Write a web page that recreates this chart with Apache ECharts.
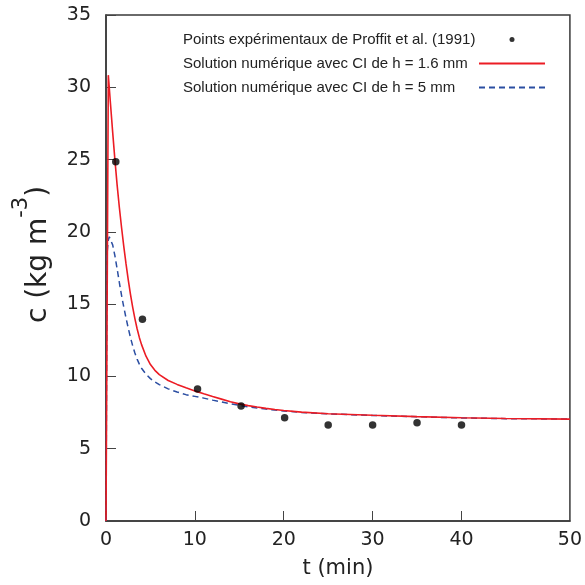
<!DOCTYPE html>
<html>
<head>
<meta charset="utf-8">
<script src="https://cdn.jsdelivr.net/npm/echarts@6/dist/echarts.min.js"></script>
<style>html,body{margin:0;padding:0;background:#fff}#c{width:585px;height:585px}</style>
</head>
<body>
<div id="c"></div>
<script>
// ---- data ----
const seriesNames = [
  'Points expérimentaux de Proffit et al. (1991)',
  'Solution numérique avec CI de h = 1.6 mm',
  'Solution numérique avec CI de h = 5 mm'
];
const tExp = [1.1, 4.1, 10.3, 15.2, 20.1, 25, 30, 35, 40];
const cExp = [24.85, 13.95, 9.13, 7.95, 7.15, 6.64, 6.64, 6.8, 6.64];

const tRed = [0, 0.26, 0.5, 0.75, 1.0, 1.25, 1.5, 1.75, 2.0, 2.25, 2.5, 2.75, 3.0, 3.25, 3.5, 3.75, 4.0, 4.5, 5.0, 5.5, 6.0, 7.0, 8.0, 9.0, 10, 11, 12, 13, 14, 15, 16, 17, 18, 19, 20, 22, 25, 30, 35, 40, 45, 52.2];
const cRed = [0, 30.84, 28.9, 26.9, 25.0, 23.25, 21.7, 20.3, 19.0, 17.8, 16.7, 15.7, 14.8, 14.0, 13.3, 12.7, 12.2, 11.4, 10.82, 10.42, 10.12, 9.72, 9.45, 9.22, 9.0, 8.8, 8.61, 8.43, 8.25, 8.1, 7.98, 7.88, 7.79, 7.71, 7.64, 7.53, 7.42, 7.31, 7.22, 7.14, 7.09, 7.05];

const tBlue = [0, 0.12, 0.25, 0.37, 0.5, 0.75, 1.0, 1.25, 1.5, 1.75, 2.0, 2.25, 2.5, 2.75, 3.0, 3.25, 3.5, 3.75, 4.0, 4.5, 5.0, 5.5, 6.0, 7.0, 8.0, 9.0, 10, 11, 12, 13, 14, 15, 16, 17, 18, 19, 20, 22, 25, 30, 35, 40, 45, 52.2];
const cBlue = [0, 18.5, 19.4, 19.66, 19.55, 19.1, 18.35, 17.45, 16.5, 15.6, 14.8, 14.05, 13.35, 12.7, 12.12, 11.62, 11.2, 10.85, 10.57, 10.15, 9.85, 9.62, 9.43, 9.14, 8.92, 8.74, 8.62, 8.5, 8.36, 8.23, 8.11, 8.0, 7.9, 7.82, 7.74, 7.67, 7.61, 7.51, 7.41, 7.3, 7.21, 7.13, 7.08, 7.05];

const xTickValues = [0, 10, 20, 30, 40];
const xAxisEnd = 52.2;              // right edge of the frame (labelled "50" in the reference)
const xTickLabels = ['0', '10', '20', '30', '40', '50'];
const yMin = 0, yMax = 35, yStep = 5;

const xLabelValues = xTickValues.concat([xAxisEnd]);

const chart = echarts.init(document.getElementById('c'), null, {renderer: 'canvas'});
const txt = '#222';
const frame = '#3a3a3a';
const RED = '#ec1c24', BLUE = '#2b4ea2';

chart.setOption({
  animation: false,
  backgroundColor: '#fff',
  grid: {left: 106, right: 13, top: 15, bottom: 64, show: true, borderColor: frame, borderWidth: 1.5, backgroundColor: 'transparent'},
  legend: {
    left: 178, top: 27, orient: 'vertical', align: 'right',
    itemWidth: 66, itemHeight: 5, itemGap: 9,
    selectedMode: false,
    data: [
      {name: seriesNames[0]},
      {name: seriesNames[1], itemStyle: {opacity: 0}},
      {name: seriesNames[2], itemStyle: {opacity: 0}}
    ],
    formatter: n => '{a|' + n + '}',
    textStyle: {rich: {a: {width: 291, align: 'left', fontSize: 15, lineHeight: 15, fontFamily: 'Liberation Sans', color: txt}}}
  },
  xAxis: {
    type: 'value', min: 0, max: xAxisEnd,
    splitLine: {show: false},
    axisLine: {show: true, lineStyle: {color: frame, width: 1.5}},
    axisTick: {inside: true, length: 10, customValues: xTickValues.slice(1), lineStyle: {color: '#444', width: 1}},
    axisLabel: {customValues: xLabelValues, margin: 10, fontSize: 19, fontFamily: 'DejaVu Sans', color: txt,
      formatter: v => xTickLabels[xLabelValues.indexOf(v)] ?? String(v)},
    name: 't (min)', nameLocation: 'middle', nameGap: 37,
    nameTextStyle: {fontSize: 21, fontFamily: 'DejaVu Sans', color: txt}
  },
  yAxis: {
    type: 'value', min: yMin, max: yMax, interval: yStep,
    splitLine: {show: false},
    axisLine: {show: true, lineStyle: {color: frame, width: 1.5}},
    axisTick: {inside: true, length: 10, lineStyle: {color: '#444', width: 1}},
    axisLabel: {margin: 15, fontSize: 19, fontFamily: 'DejaVu Sans', color: txt, showMinLabel: true, showMaxLabel: true}
  },
  graphic: [{
    type: 'text', x: 38.6, y: 254.5, rotation: Math.PI / 2,
    style: {
      text: '{m|c (kg m}{s|-3}{m|)}',
      align: 'center', verticalAlign: 'middle',
      rich: {
        m: {fontSize: 28, lineHeight: 56, fontFamily: 'DejaVu Sans', fill: txt},
        s: {fontSize: 21, lineHeight: 21, verticalAlign: 'top', fontFamily: 'DejaVu Sans', fill: txt}
      }
    }
  }],
  series: [
    {
      name: seriesNames[0], type: 'scatter', symbol: 'circle', symbolSize: 7.5,
      itemStyle: {color: '#000'}, z: 5,
      data: tExp.map((t, i) => [t, cExp[i]])
    },
    {
      name: seriesNames[1], type: 'line', symbol: 'none', showSymbol: false,
      lineStyle: {color: RED, width: 1.6}, itemStyle: {color: RED}, z: 4,
      data: tRed.map((t, i) => [t, cRed[i]])
    },
    {
      name: seriesNames[2], type: 'line', symbol: 'none', showSymbol: false,
      lineStyle: {color: BLUE, width: 1.5, type: [6, 4]}, itemStyle: {color: BLUE}, z: 3,
      data: tBlue.map((t, i) => [t, cBlue[i]])
    }
  ]
});
</script>
</body>
</html>
